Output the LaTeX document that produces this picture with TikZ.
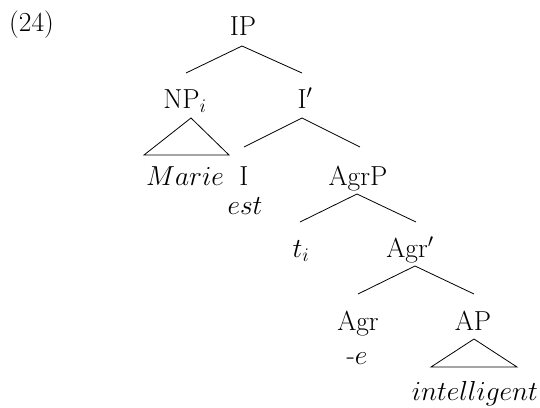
\RequirePackage{fix-cm}
\documentclass[tikz,border=0pt]{standalone}
\usetikzlibrary{calc}
\begin{document}
\begin{tikzpicture}[x=1pt,y=-1pt,
  lbl/.style={anchor=base,inner sep=0pt,font=\fontsize{27.5}{33}\selectfont},
  br/.style={line width=0.8pt,line join=miter}]
\useasboundingbox (0,0) rectangle (540,407);
\node[lbl,anchor=base west] (ex) at (9,31) {(24)};
\node[lbl] (IP) at (243,35) {IP};
\node[lbl] (NP) at (185,108) {NP$_i$};
\node[lbl] (Ibar) at (305,108) {I$'$};
\node[lbl] (Marie) at (185,185) {$Marie$};
\node[lbl] (I) at (244,185) {I};
\node[lbl] (AgrP) at (358,185) {AgrP};
\node[lbl] (est) at (245,214) {$est$};
\node[lbl] (t) at (301,257) {$t_i$};
\node[lbl] (Agrbar) at (410,257) {Agr$'$};
\node[lbl] (Agr) at (358,330) {Agr};
\node[lbl] (AP) at (473,330) {AP};
\node[lbl] (e) at (357,364) {-$e$};
\node[lbl] (intel) at (475,400) {$intelligent$};
% branches
\draw[br] ($(NP.base)+(1,-35)$) -- ($(IP.base)+(-1,11)$) -- ($(Ibar.base)+(-3,-35)$);
\draw[br] ($(I.base)+(0,-38)$) -- ($(Ibar.base)+(-3,10)$) -- ($(AgrP.base)+(2,-38)$);
\draw[br] ($(t.base)+(-1,-35)$) -- ($(AgrP.base)+(-1,9)$) -- ($(Agrbar.base)+(6,-35)$);
\draw[br] ($(Agr.base)+(0,-36)$) -- ($(Agrbar.base)+(5,9)$) -- ($(AP.base)+(1,-36)$);
% triangles
\draw[br] ($(NP.base)+(6,10)$) -- ($(Marie.base)+(-41,-30)$) -- ($(Marie.base)+(44,-30)$) -- cycle;
\draw[br] ($(AP.base)+(1,9)$) -- ($(intel.base)+(-44,-33)$) -- ($(intel.base)+(42,-33)$) -- cycle;
\end{tikzpicture}
\end{document}
